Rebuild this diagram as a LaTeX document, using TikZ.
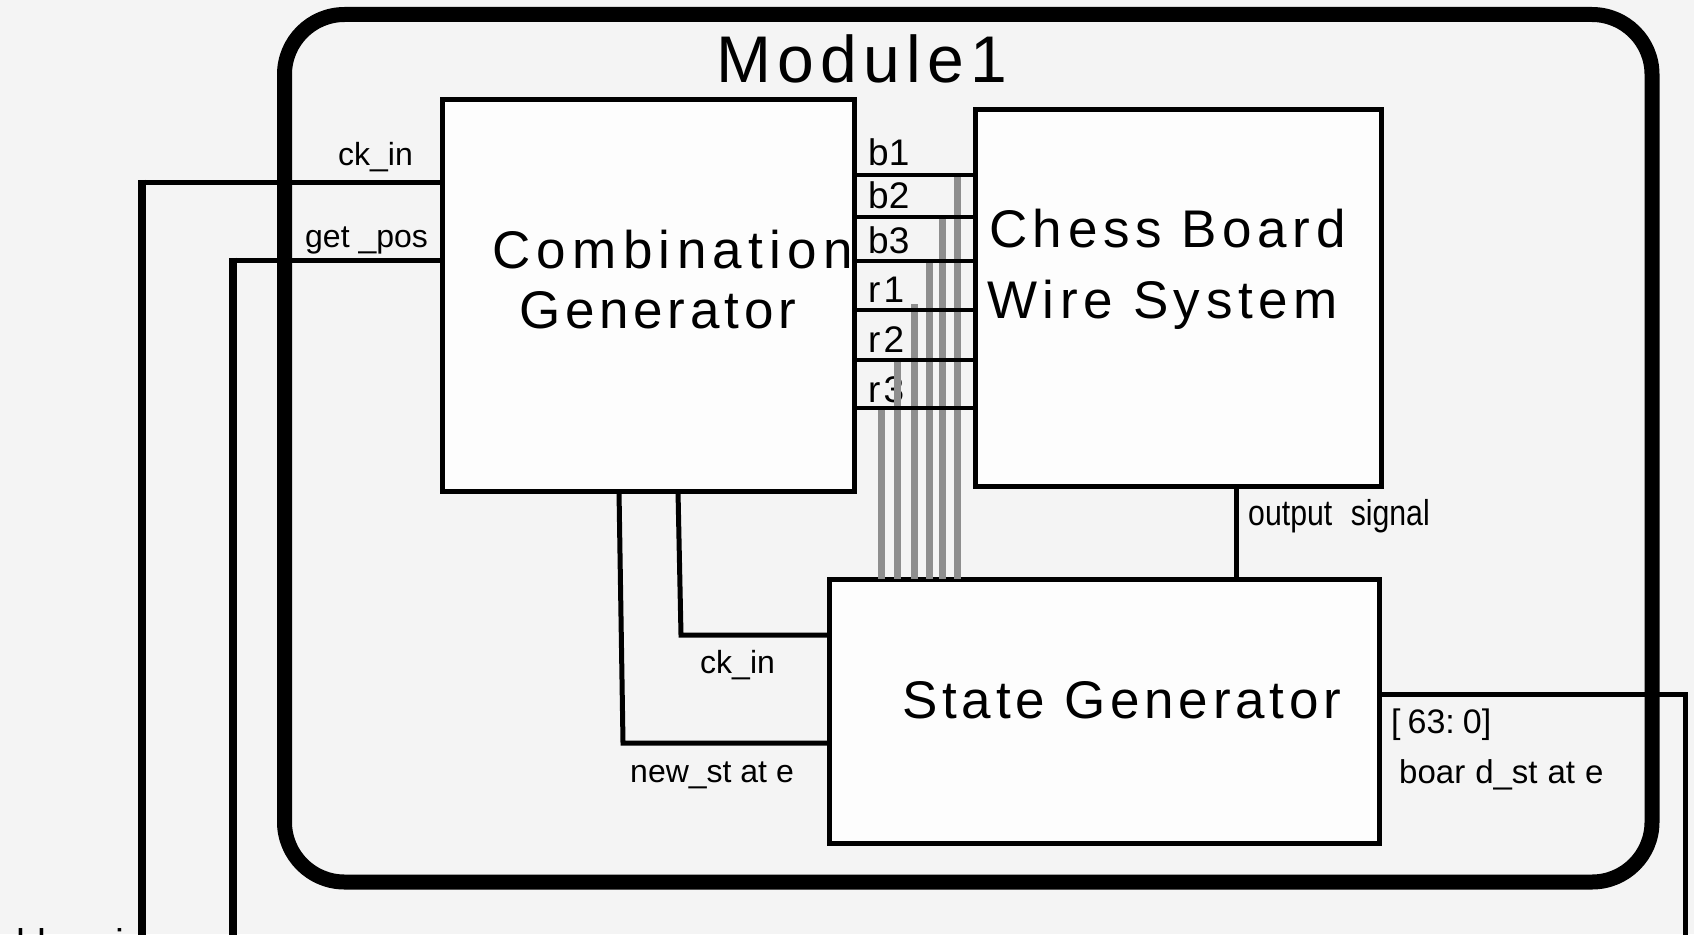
\documentclass[tikz,border=0pt]{standalone}
\usepackage{fontspec}
\setmainfont{Liberation Sans}
\newfontfamily\wideA[LetterSpace=9.5]{Liberation Sans}
\newfontfamily\wideB[LetterSpace=9]{Liberation Sans}
\newfontfamily\wideC[LetterSpace=12]{Liberation Sans}
\newfontfamily\wideD[LetterSpace=10.5]{Liberation Sans}
\definecolor{bgc}{HTML}{F4F4F4}
\definecolor{boxc}{HTML}{FDFDFD}
\definecolor{busgray}{HTML}{8E8E8E}
\begin{document}
\begin{tikzpicture}[x=1pt,y=-1pt,
  box/.style={draw=black, fill=boxc, line width=5pt, inner sep=0pt, outer sep=0pt},
  wire/.style={line width=5pt, draw=black},
  thickwire/.style={line width=8pt, draw=black},
  bus/.style={line width=7pt, draw=busgray},
  lbl/.style={anchor=base west, inner sep=0pt, font=\fontsize{32}{32}\selectfont},
  blbl/.style={anchor=base west, inner sep=0pt, font=\fontsize{37}{37}\selectfont},
  big/.style={anchor=base west, inner sep=0pt, font=\wideB\fontsize{53}{53}\selectfont}]
\fill[bgc] (0,0) rectangle (1694,934);
\useasboundingbox (0,0) rectangle (1694,934);

% module frame
\node[draw=black, line width=15pt, rounded corners=60pt, inner sep=0pt,
      minimum width=1367.5pt, minimum height=867.5pt] (mod) at (968.25,448.25) {};
\node[anchor=base west, inner sep=0pt, font=\wideA\fontsize{66}{66}\selectfont] (modtitle) at (716,82) {Module1};

% blocks
\node[box, minimum width=412pt, minimum height=392pt] (cg) at (648,295) {};
\node[box, minimum width=406pt, minimum height=377pt] (cbws) at (1178,297.5) {};
\node[box, minimum width=550pt, minimum height=264pt] (sg) at (1104,711) {};

\node[big, font=\wideC\fontsize{53}{53}\selectfont] (cgt1) at (492,268) {Combination};
\node[big] (cgt2) at (519,328) {Generator};
\node[big, font=\wideD\fontsize{53}{53}\selectfont] (cbt1) at (989,247) {Chess Board};
\node[big, font=\wideD\fontsize{53}{53}\selectfont] (cbt2) at (987,318) {Wire System};
\node[big] (sgt) at (902,718) {State Generator};

% bus labels
\node[blbl] (lb1) at (868,165) {b1};
\node[blbl] (lb2) at (868,208) {b2};
\node[blbl] (lb3) at (868,253) {b3};
\node[blbl] (lr1) at (868,302) {r\hspace{3pt}1};
\node[blbl] (lr2) at (868,352) {r\hspace{3pt}2};
\node[blbl] (lr3) at (868,402) {r\hspace{3pt}3};

% gray bus lines down to the state generator
\foreach \xx/\yy in {957/175,942/217,929/261,914/304,897/360,881/408}
  \draw[bus] (\xx,\yy) -- (\xx,0 |- sg.north);

% bus wires between blocks
\foreach \yy in {175,217,261,310,360,408}
  \draw[wire, line width=4pt] (cg.east |- 0,\yy) -- (cbws.west |- 0,\yy);

% left inputs
\coordinate (ckc) at (142,182);
\coordinate (ckb) at (142,960);
\coordinate (gpc) at (233,260);
\coordinate (gpb) at (233,960);
\draw[wire] (cg.west |- ckc) -- ([xshift=-4pt]ckc);
\draw[thickwire] ([yshift=2.5pt]ckc) -- (ckb);
\draw[wire] (cg.west |- gpc) -- ([xshift=-4pt]gpc);
\draw[thickwire] ([yshift=2.5pt]gpc) -- (gpb);
\node[lbl] (lckin) at (338,165) {ck\_in};
\node[lbl] (lgetpos) at (305,247) {get \_pos};
\node[lbl, font=\fontsize{40}{40}\selectfont] (lclkin) at (-4,957) {c\hspace{0pt}l\hspace{12pt}k\_\hspace{36pt}in};

% combination generator -> state generator
\coordinate (cka) at (678,0 |- cg.south);
\coordinate (ckd) at (681,635);
\coordinate (nsa) at (619,0 |- cg.south);
\coordinate (nsd) at (623,743);
\draw[wire] (cka) -- (ckd) -- (sg.west |- ckd);
\draw[wire] (nsa) -- (nsd) -- (sg.west |- nsd);
\node[lbl] (lck2) at (700,673) {ck\_in};
\node[lbl] (lns) at (630,782) {new\_st at e};

% output signal
\draw[wire] (1236,0 |- cbws.south) -- (1236,0 |- sg.north);
\node[anchor=base west, inner sep=0pt, font=\fontsize{36}{36}\selectfont] (los) at (1248,525) {\scalebox{0.84}[1]{output\hspace{22pt}signal}};

% board state output
\coordinate (bsc) at (1685,694);
\coordinate (bsb) at (1685,960);
\draw[wire] (sg.east |- bsc) -- (bsc) -- (bsb);
\node[lbl, font=\fontsize{34}{34}\selectfont] (lbits) at (1391,733) {[\hspace{7pt}63:\hspace{8pt}0]};
\node[lbl, font=\fontsize{33}{33}\selectfont] (lbs) at (1399,783) {boar\hspace{10pt}d\_st\hspace{10pt}at\hspace{10pt}e};
\end{tikzpicture}
\end{document}
